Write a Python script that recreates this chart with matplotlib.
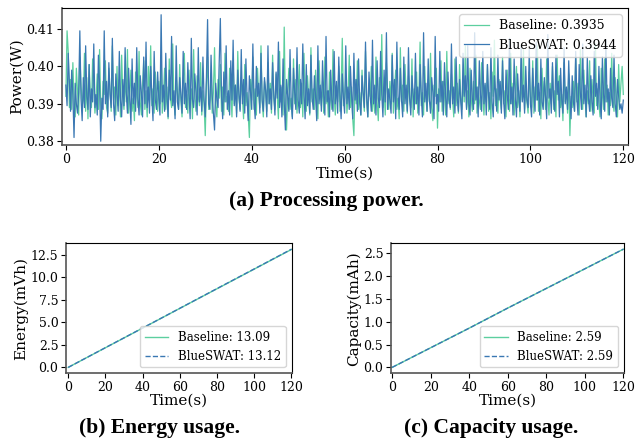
import numpy as np
import matplotlib.pyplot as plt

plt.rcParams['font.family'] = 'DejaVu Serif'

GREEN = '#5ccf9f'
BLUE = '#3a78b3'

# processing power, sampled every 0.25 s, in mW
baseline_mw = [
    392.0, 409.5, 404.0, 389.0, 396.5, 388.5, 401.0, 390.5, 386.5, 399.5, 393.0, 387.0, 402.5, 395.5, 389.5, 391.0, 403.5, 388.0, 397.0, 386.0,
    400.5, 392.5, 389.0, 402.0, 394.0, 387.5, 391.5, 398.0, 388.5, 404.5, 390.0, 386.0, 396.0, 392.5, 401.5, 389.0, 387.5, 399.5, 393.5, 388.0,
    405.5, 391.0, 394.5, 387.0, 400.0, 389.5, 396.5, 386.5, 403.0, 392.0, 388.5, 397.5, 390.5, 404.5, 387.5, 393.0, 399.0, 388.0, 391.5, 385.5,
    398.5, 392.0, 389.0, 404.0, 390.5, 387.0, 395.0, 401.5, 388.5, 393.5, 386.5, 400.0, 391.0, 405.5, 389.5, 394.0, 387.5, 398.5, 392.5, 388.0,
    396.0, 390.0, 403.0, 387.5, 392.0, 399.5, 388.5, 394.5, 386.0, 402.0, 391.5, 389.0, 406.0, 390.5, 387.0, 397.0, 393.0, 388.5, 400.5, 391.0,
    386.5, 395.5, 403.5, 389.0, 392.5, 387.5, 399.0, 390.5, 394.0, 386.0, 404.5, 391.5, 388.0, 397.5, 392.0, 389.5, 401.0, 387.0, 393.5, 390.0,
    381.5, 395.0, 402.5, 388.5, 391.0, 398.0, 387.5, 393.0, 405.0, 389.5, 386.5, 396.5, 391.5, 400.5, 388.0, 394.5, 387.0, 403.5, 390.5, 392.0,
    388.0, 399.5, 393.5, 386.5, 401.0, 390.0, 395.0, 387.5, 404.0, 391.5, 388.5, 397.0, 392.0, 386.0, 400.5, 389.5, 393.0, 387.0, 381.0, 396.5,
    391.0, 402.5, 388.5, 394.0, 387.0, 399.5, 392.5, 389.0, 405.5, 390.5, 386.5, 396.0, 393.5, 388.0, 401.0, 390.0, 395.5, 387.5, 403.0, 391.5,
    388.5, 398.0, 392.0, 386.0, 404.0, 390.5, 394.5, 387.0, 410.5, 389.0, 383.0, 393.0, 399.5, 388.5, 391.5, 386.5, 402.0, 390.0, 396.5, 387.5,
    393.0, 400.5, 389.0, 395.5, 386.5, 403.5, 391.0, 388.0, 397.5, 392.5, 387.0, 405.0, 390.5, 394.0, 388.5, 399.0, 391.5, 386.0, 401.5, 393.0,
    389.5, 396.0, 387.5, 402.5, 390.0, 393.5, 386.5, 398.5, 391.0, 388.5, 404.5, 392.0, 387.0, 395.0, 390.5, 400.0, 388.0, 393.5, 407.5, 389.5,
    391.5, 397.0, 387.5, 392.5, 403.0, 389.0, 394.5, 386.0, 381.5, 396.5, 390.0, 401.5, 388.5, 393.0, 387.0, 399.0, 391.5, 388.0, 404.0, 390.5,
    386.5, 395.5, 392.0, 400.0, 388.0, 393.5, 387.5, 402.5, 390.5, 385.5, 397.0, 391.0, 408.5, 389.0, 394.5, 387.0, 401.0, 392.5, 388.5, 396.0,
    390.0, 403.5, 387.5, 393.0, 399.0, 388.5, 391.5, 386.0, 405.0, 390.5, 395.0, 388.0, 400.5, 392.5, 387.5, 397.5, 391.0, 389.0, 402.0, 386.5,
    394.0, 390.0, 398.5, 387.5, 392.5, 406.5, 389.5, 393.0, 387.0, 400.0, 391.5, 388.0, 396.5, 390.5, 403.5, 389.0, 385.5, 395.0, 392.0, 399.5,
    383.5, 394.0, 390.5, 401.5, 388.0, 396.0, 392.5, 387.0, 404.0, 390.0, 393.5, 388.5, 398.0, 391.0, 386.5, 402.0, 389.5, 395.5, 387.5, 400.5,
    392.0, 388.5, 397.0, 390.5, 405.5, 389.0, 393.5, 386.5, 399.5, 391.5, 388.0, 396.0, 390.0, 403.0, 387.5, 394.5, 391.0, 388.5, 401.0, 392.5,
    387.0, 395.0, 390.5, 400.5, 388.0, 393.0, 386.0, 398.5, 392.0, 407.0, 389.5, 394.0, 387.5, 396.5, 391.0, 388.5, 402.5, 390.0, 393.5, 386.5,
    399.0, 391.5, 388.0, 403.5, 390.0, 395.5, 387.0, 392.5, 400.0, 389.0, 393.5, 386.5, 397.0, 391.0, 404.5, 388.5, 394.0, 390.5, 387.5, 398.5,
    392.0, 389.0, 401.5, 387.5, 394.5, 391.0, 405.5, 388.0, 393.0, 386.0, 399.5, 390.5, 396.0, 388.5, 402.0, 391.5, 387.0, 395.5, 390.0, 400.0,
    388.5, 393.5, 386.5, 403.0, 391.0, 397.5, 389.0, 392.5, 385.5, 401.0, 390.5, 394.0, 387.5, 398.0, 381.5, 392.0, 389.0, 396.0, 388.0, 402.5,
    390.5, 395.5, 387.0, 404.5, 391.5, 388.5, 399.0, 392.0, 386.5, 393.5, 390.0, 401.5, 388.0, 396.5, 391.5, 387.5, 406.0, 389.5, 394.0, 390.0,
    386.5, 399.5, 392.5, 388.5, 402.0, 390.5, 395.0, 387.0, 393.0, 389.5, 403.5, 391.0, 388.0, 397.0, 392.0, 386.5, 400.5, 390.5, 395.5, 400.0,
    392.5,
]
blueswat_mw = [
    395.0, 389.5, 403.5, 396.0, 388.0, 399.0, 392.5, 381.0, 395.5, 390.0, 387.5, 393.0, 409.5, 391.5, 385.5, 397.0, 389.0, 405.5, 392.0, 388.5,
    400.5, 386.5, 394.0, 390.5, 406.0, 389.0, 392.5, 387.0, 403.0, 395.0, 380.0, 391.5, 388.5, 409.5, 390.0, 396.0, 386.5, 401.0, 392.5, 389.0,
    407.5, 390.0, 385.5, 398.0, 392.5, 388.0, 404.0, 391.0, 386.5, 396.5, 389.5, 405.0, 393.0, 387.5, 399.5, 391.5, 384.5, 402.0, 390.0, 395.5,
    388.0, 405.0, 391.5, 387.0, 397.5, 393.0, 386.5, 402.5, 390.0, 406.5, 389.0, 394.5, 387.5, 400.0, 392.0, 385.5, 404.0, 391.0, 388.5, 398.5,
    391.5, 387.0, 413.8, 390.5, 395.0, 388.0, 403.5, 392.0, 386.5, 399.0, 391.0, 408.0, 389.5, 393.5, 386.0, 405.5, 390.5, 388.5, 397.0, 392.5,
    387.5, 404.0, 390.0, 395.5, 388.5, 401.0, 392.5, 386.0, 407.5, 391.0, 389.0, 398.0, 393.0, 387.0, 405.0, 390.5, 394.5, 388.0, 402.5, 391.0,
    386.5, 397.0, 412.5, 390.0, 388.5, 403.0, 392.0, 387.5, 383.0, 395.5, 391.0, 389.0, 400.5, 412.8, 392.0, 386.0, 398.5, 390.5, 405.5, 388.5,
    393.5, 387.0, 401.5, 391.0, 407.0, 389.5, 395.0, 386.5, 399.0, 392.5, 388.0, 404.5, 390.0, 396.5, 387.5, 402.0, 391.5, 385.5, 397.5, 393.0,
    388.5, 406.0, 390.5, 386.0, 400.0, 392.0, 395.5, 387.5, 403.5, 391.0, 388.0, 397.0, 393.5, 386.5, 405.5, 390.0, 394.0, 388.5, 401.0, 392.5,
    387.0, 398.5, 391.5, 406.5, 389.0, 395.0, 386.5, 402.0, 390.5, 383.0, 396.5, 392.0, 388.0, 404.5, 390.5, 386.0, 399.5, 393.0, 388.5, 405.0,
    391.0, 387.5, 396.5, 390.0, 406.0, 392.5, 386.0, 400.5, 389.5, 394.0, 387.5, 403.0, 391.5, 388.5, 397.5, 392.0, 385.5, 405.5, 390.0, 395.0,
    388.0, 401.5, 392.5, 387.0, 408.0, 390.5, 393.5, 386.5, 399.0, 391.0, 388.0, 404.0, 390.0, 396.0, 387.5, 402.5, 392.0, 386.0, 398.0, 391.5,
    387.5, 405.5, 390.0, 394.5, 388.5, 400.0, 392.5, 386.0, 403.5, 391.0, 396.5, 388.0, 402.0, 390.5, 387.0, 397.5, 393.0, 389.0, 406.5, 391.5,
    386.5, 398.5, 392.0, 388.0, 407.0, 390.0, 395.0, 387.0, 401.5, 391.5, 389.0, 404.0, 392.5, 386.5, 399.0, 390.5, 409.0, 388.5, 394.0, 391.0,
    387.5, 403.0, 390.5, 396.5, 386.0, 406.5, 392.0, 388.5, 399.5, 391.0, 386.5, 402.5, 390.0, 395.0, 388.0, 405.0, 391.5, 387.0, 397.5, 392.5,
    388.5, 403.5, 390.0, 394.5, 387.0, 400.5, 392.0, 386.5, 409.0, 390.5, 395.5, 388.0, 402.0, 391.0, 387.5, 397.0, 393.0, 386.0, 408.0, 390.0,
    392.5, 388.0, 404.0, 390.5, 396.0, 387.0, 401.0, 392.0, 386.5, 398.5, 391.0, 389.0, 406.0, 390.0, 394.5, 387.5, 402.5, 391.5, 388.0, 396.5,
    390.5, 386.0, 403.5, 392.0, 397.5, 388.5, 405.5, 390.0, 387.0, 399.0, 391.5, 388.5, 409.0, 391.0, 394.5, 386.5, 401.5, 392.5, 388.0, 404.0,
    390.0, 395.5, 387.0, 400.5, 392.0, 388.5, 405.0, 390.5, 386.5, 397.5, 393.0, 388.0, 403.0, 391.0, 396.0, 387.5, 401.5, 390.5, 386.0, 399.0,
    392.5, 388.5, 407.5, 390.0, 394.5, 387.0, 402.0, 391.5, 386.5, 398.0, 392.0, 388.0, 405.5, 390.5, 395.0, 387.5, 400.0, 391.0, 389.0, 404.5,
    390.0, 386.5, 399.5, 392.5, 388.0, 406.5, 391.0, 395.5, 387.0, 402.0, 390.5, 388.5, 397.0, 392.0, 386.0, 408.5, 391.5, 394.0, 387.5, 401.0,
    390.5, 388.0, 403.0, 392.5, 396.0, 386.5, 399.5, 391.0, 387.5, 405.0, 390.0, 394.5, 388.5, 401.5, 392.0, 386.0, 397.5, 390.5, 388.0, 404.0,
    391.5, 387.0, 400.5, 393.0, 388.5, 406.0, 390.0, 395.0, 386.5, 402.5, 391.5, 388.0, 397.5, 390.5, 387.0, 404.0, 392.0, 395.5, 388.5, 400.0,
    390.5, 386.0, 402.5, 392.5, 388.0, 407.0, 390.5, 394.0, 387.0, 399.5, 391.5, 389.0, 403.0, 390.0, 386.5, 396.5, 392.0, 388.5, 390.0, 387.5,
    391.0,
]

# cumulative energy / capacity
usage_time = [0, 20, 40, 60, 80, 100, 120]
baseline_energy = [0, 2.18, 4.36, 6.55, 8.73, 10.91, 13.09]
blueswat_energy = [0, 2.19, 4.37, 6.56, 8.75, 10.93, 13.12]
baseline_capacity = [0, 0.43, 0.86, 1.30, 1.73, 2.16, 2.59]
blueswat_capacity = [0, 0.43, 0.86, 1.30, 1.73, 2.16, 2.59]

fig = plt.figure(figsize=(6.35, 4.4), dpi=100)
ax1 = fig.add_axes([0.0972, 0.6705, 0.8917, 0.3113])
ax2 = fig.add_axes([0.1039, 0.1516, 0.3554, 0.2955])
ax3 = fig.add_axes([0.6157, 0.1516, 0.3669, 0.2955])

t_base = np.arange(len(baseline_mw)) * 0.25
t_blue = np.arange(len(blueswat_mw)) * 0.25
ax1.plot(t_base, np.array(baseline_mw) / 1000, color=GREEN, lw=0.9, label='Baseline: 0.3935')
ax1.plot(t_blue, np.array(blueswat_mw) / 1000, color=BLUE, lw=0.9, label='BlueSWAT: 0.3944')
ax1.set_xlim(-0.9, 121)
ax1.set_ylim(0.379, 0.4156)
ax1.set_yticks([0.38, 0.39, 0.40, 0.41])
ax1.set_xlabel('Time(s)', fontsize=11, labelpad=1)
ax1.set_ylabel('Power(W)', fontsize=11, labelpad=2)
ax1.tick_params(labelsize=9, pad=2)
ax1.legend(loc='upper right', fontsize=9, framealpha=0.8)

ax2.plot(usage_time, baseline_energy, color=GREEN, lw=1.0, label='Baseline: 13.09')
ax2.plot(usage_time, blueswat_energy, color=BLUE, lw=1.0, ls='--', label='BlueSWAT: 13.12')
ax2.set_xlim(-1.2, 120.1)
ax2.set_xticks(range(0, 121, 20))
ax2.set_yticks([0, 2.5, 5, 7.5, 10, 12.5])
ax2.yaxis.set_major_formatter('{x:.1f}')
ax2.set_xlabel('Time(s)', fontsize=11, labelpad=0)
ax2.set_ylabel('Energy(mVh)', fontsize=11, labelpad=2)
ax2.tick_params(labelsize=9, pad=2)
ax2.legend(loc='lower right', fontsize=8.5)

ax3.plot(usage_time, baseline_capacity, color=GREEN, lw=1.0, label='Baseline: 2.59')
ax3.plot(usage_time, blueswat_capacity, color=BLUE, lw=1.0, ls='--', label='BlueSWAT: 2.59')
ax3.set_xlim(-0.6, 120.3)
ax3.set_xticks(range(0, 121, 20))
ax3.set_yticks([0, 0.5, 1.0, 1.5, 2.0, 2.5])
ax3.yaxis.set_major_formatter('{x:.1f}')
ax3.set_xlabel('Time(s)', fontsize=11, labelpad=0)
ax3.set_ylabel('Capacity(mAh)', fontsize=11, labelpad=2)
ax3.tick_params(labelsize=9, pad=2)
ax3.legend(loc='lower right', fontsize=8.5)

for ax in (ax1, ax2, ax3):
    for side in ('left', 'bottom'):
        ax.spines[side].set_color('#555555')
        ax.spines[side].set_linewidth(1.2)

cap = dict(fontsize=15.5, fontweight='bold', family='Liberation Serif', ha='center', va='center')
fig.text(326 / 635, 1 - 201 / 440, '(a) Processing power.', **cap)
fig.text(160 / 635, 1 - 428 / 440, '(b) Energy usage.', **cap)
fig.text(491 / 635, 1 - 428 / 440, '(c) Capacity usage.', **cap)

fig.savefig('out.png', dpi=100)
